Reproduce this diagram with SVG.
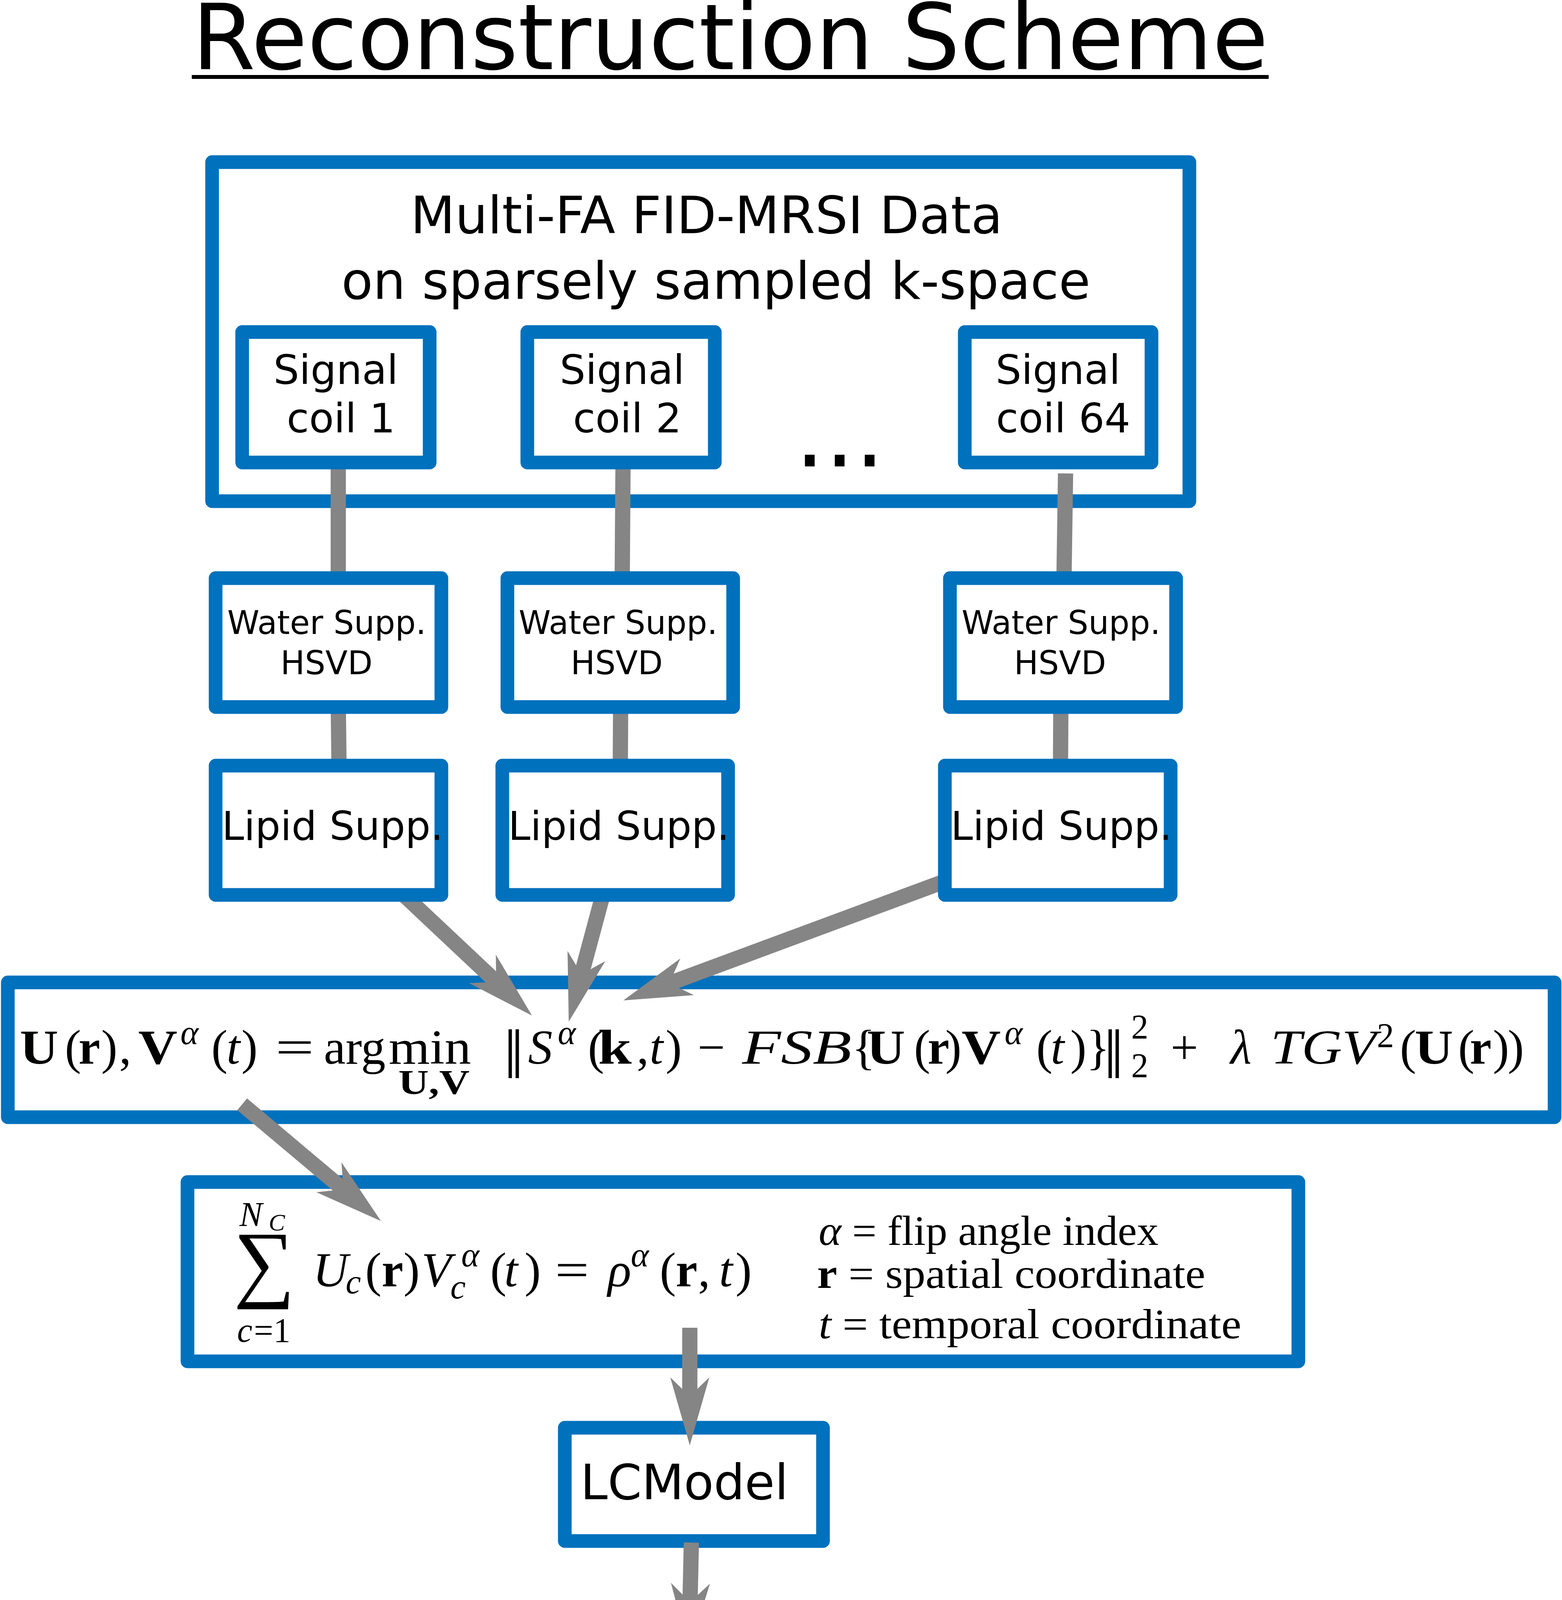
<svg xmlns="http://www.w3.org/2000/svg" width="3999" height="4574" viewBox="0 0 3999 4574">
<style>
.box{fill:#fff;stroke:#0071BC;stroke-width:35;stroke-linejoin:round}
.conn{fill:none;stroke:#858585;stroke-width:39}
.arr{marker-end:url(#ah)}
.sans{font-family:"DejaVu Sans","Liberation Sans",sans-serif;fill:#000}
.math{font-family:"Liberation Serif","Times New Roman",serif;fill:#000}
.it{font-style:italic}
.bf{font-weight:bold}
</style>
<defs>
<marker id="ah" markerUnits="userSpaceOnUse" viewBox="-40 -60 200 120" markerWidth="200" markerHeight="120" refX="0" refY="0" orient="auto" overflow="visible">
<path d="M144,0 L-30,-50 L0,-19 L-6,0 L0,19 L-30,50 Z" fill="#858585"/>
</marker>
</defs>
<rect width="3999" height="4574" fill="#fff"/>

<g id="title">
<text class="sans" x="492" y="177" font-size="233">Reconstruction Scheme</text>
<rect x="491" y="192" width="2757" height="10" fill="#000"/>
</g>

<g id="node-data">
<rect class="box" x="543" y="415" width="2502" height="868"/>
<text class="sans" x="1051" y="597" font-size="132">Multi-FA FID-MRSI Data</text>
<text class="sans" x="874" y="765" font-size="132">on sparsely sampled k-space</text>
<text class="sans" x="2035" y="1194" font-size="241">...</text>
</g>

<g id="node-formula">
<rect class="box" x="20" y="2515" width="3960" height="345"/>
<text class="math" font-size="125">
<tspan class="bf" x="51" y="2723" textLength="98" lengthAdjust="spacingAndGlyphs">U</tspan><tspan x="166" y="2723">(</tspan><tspan class="bf" x="201" y="2723">r</tspan><tspan x="259" y="2723">)</tspan><tspan x="305" y="2723">,</tspan><tspan class="bf" x="354" y="2723" textLength="100" lengthAdjust="spacingAndGlyphs">V</tspan><tspan class="it" x="462" y="2673" font-size="88">α</tspan><tspan x="541" y="2723">(</tspan><tspan class="it" x="580" y="2723">t</tspan><tspan x="618" y="2723">)</tspan><tspan x="705" y="2723" textLength="99" lengthAdjust="spacingAndGlyphs">=</tspan><tspan x="829" y="2723" textLength="158" lengthAdjust="spacingAndGlyphs">arg</tspan><tspan x="995" y="2723" textLength="211" lengthAdjust="spacingAndGlyphs">min</tspan><tspan class="bf" x="1020" y="2800" font-size="88" textLength="182" lengthAdjust="spacingAndGlyphs">U,V</tspan><tspan x="1290" y="2760" font-size="180">‖</tspan><tspan class="it" x="1352" y="2723">S</tspan><tspan class="it" x="1428" y="2673" font-size="88">α</tspan><tspan x="1505" y="2723">(</tspan><tspan class="bf" x="1531" y="2723" textLength="86" lengthAdjust="spacingAndGlyphs">k</tspan><tspan x="1630" y="2723">,</tspan><tspan class="it" x="1663" y="2723">t</tspan><tspan x="1704" y="2723">)</tspan><tspan x="1786" y="2723">−</tspan><tspan class="it" x="1900" y="2723" textLength="280" lengthAdjust="spacingAndGlyphs">FSB</tspan><tspan x="2181" y="2723">{</tspan><tspan class="bf" x="2219" y="2723" textLength="98" lengthAdjust="spacingAndGlyphs">U</tspan><tspan x="2340" y="2723">(</tspan><tspan class="bf" x="2375" y="2723">r</tspan><tspan x="2420" y="2723">)</tspan><tspan class="bf" x="2462" y="2723" textLength="100" lengthAdjust="spacingAndGlyphs">V</tspan><tspan class="it" x="2572" y="2673" font-size="88">α</tspan><tspan x="2653" y="2723">(</tspan><tspan class="it" x="2690" y="2723">t</tspan><tspan x="2740" y="2723">)</tspan><tspan x="2781" y="2723">}</tspan><tspan x="2826" y="2760" font-size="180">‖</tspan><tspan x="2896" y="2658" font-size="88">2</tspan><tspan x="2896" y="2757" font-size="88">2</tspan><tspan x="2997" y="2723">+</tspan><tspan class="it" x="3150" y="2723">λ</tspan><tspan class="it" x="3253" y="2723" textLength="270" lengthAdjust="spacingAndGlyphs">TGV</tspan><tspan x="3525" y="2680" font-size="88">2</tspan><tspan x="3584" y="2723">(</tspan><tspan class="bf" x="3622" y="2723" textLength="98" lengthAdjust="spacingAndGlyphs">U</tspan><tspan x="3733" y="2723">(</tspan><tspan class="bf" x="3763" y="2723">r</tspan><tspan x="3822" y="2723">)</tspan><tspan x="3860" y="2723">)</tspan>
</text>
</g>

<g id="node-sum">
<rect class="box" x="480" y="3026" width="2844" height="459"/>
<text class="math" font-size="125">
<tspan class="it" x="613" y="3138" font-size="88">N</tspan><tspan class="it" x="688" y="3150" font-size="62">C</tspan><tspan x="598" y="3305" font-size="220">∑</tspan><tspan class="it" x="607" y="3435" font-size="88">c</tspan><tspan x="650" y="3435" font-size="88">=1</tspan><tspan class="it" x="801" y="3293">U</tspan><tspan class="it" x="885" y="3311" font-size="88">c</tspan><tspan x="935" y="3293">(</tspan><tspan class="bf" x="977" y="3293">r</tspan><tspan x="1033" y="3293">)</tspan><tspan class="it" x="1079" y="3293">V</tspan><tspan class="it" x="1181" y="3242" font-size="88">α</tspan><tspan class="it" x="1153" y="3324" font-size="88">c</tspan><tspan x="1255" y="3293">(</tspan><tspan class="it" x="1291" y="3293">t</tspan><tspan x="1343" y="3293">)</tspan><tspan x="1421" y="3293" textLength="87" lengthAdjust="spacingAndGlyphs">=</tspan><tspan class="it" x="1556" y="3293">ρ</tspan><tspan class="it" x="1615" y="3242" font-size="88">α</tspan><tspan x="1689" y="3293">(</tspan><tspan class="bf" x="1730" y="3293">r</tspan><tspan x="1787" y="3293">,</tspan><tspan class="it" x="1841" y="3293">t</tspan><tspan x="1883" y="3293">)</tspan>
</text>
<text class="math" x="2096" y="3187" font-size="108" textLength="870" lengthAdjust="spacingAndGlyphs"><tspan class="it">α</tspan> = flip angle index</text>
<text class="math" x="2092" y="3297" font-size="108" textLength="994" lengthAdjust="spacingAndGlyphs"><tspan class="bf">r</tspan> = spatial coordinate</text>
<text class="math" x="2096" y="3426" font-size="108" textLength="1082" lengthAdjust="spacingAndGlyphs"><tspan class="it">t</tspan> = temporal coordinate</text>
</g>

<g id="node-lcmodel">
<rect class="box" x="1446" y="3655" width="661" height="290"/>
<text class="sans" x="1486" y="3838" font-size="125">LCModel</text>
</g>

<g id="node-maps">
<rect class="box" x="517" y="4205" width="2662" height="348"/>
<text class="sans" x="565" y="4433" font-size="133">Multi-FA Metabolite distribution maps</text>
</g>

<g id="connectors">
<path class="conn" d="M866,1190 L866,1480"/>
<path class="conn" d="M866,1800 L868,1970"/>
<path class="conn" d="M1595,1190 L1593,1480"/>
<path class="conn" d="M1589,1800 L1588,1970"/>
<path class="conn" d="M2728,1212 L2724,1480"/>
<path class="conn" d="M2716,1800 L2715,1970"/>
<path class="conn arr" d="M1018.6,2276.8 L1257,2501"/>
<path class="conn arr" d="M1551,2262.8 L1493.5,2476.5"/>
<path class="conn arr" d="M2450,2244.6 L1731,2511"/>
<path class="conn arr" d="M620,2827 L865,3033"/>
<path class="conn arr" d="M1766,3399 L1766,3556"/>
<path class="conn arr" d="M1770,3949 L1767,4083"/>
</g>

<g id="node-coil1">
<rect class="box" x="620" y="850" width="480" height="334"/>
<text class="sans" font-size="104"><tspan x="700" y="983">Signal</tspan><tspan x="734" y="1107">coil 1</tspan></text>
</g>
<g id="node-coil2">
<rect class="box" x="1350" y="850" width="480" height="334"/>
<text class="sans" font-size="104"><tspan x="1433" y="983">Signal</tspan><tspan x="1467" y="1107">coil 2</tspan></text>
</g>
<g id="node-coil64">
<rect class="box" x="2470" y="850" width="478" height="334"/>
<text class="sans" font-size="104"><tspan x="2549" y="983">Signal</tspan><tspan x="2550" y="1107">coil 64</tspan></text>
</g>

<g id="node-water1">
<rect class="box" x="552" y="1480" width="578" height="330"/>
<text class="sans" font-size="83"><tspan x="582" y="1623">Water Supp.</tspan><tspan x="718" y="1726">HSVD</tspan></text>
</g>
<g id="node-water2">
<rect class="box" x="1299" y="1480" width="578" height="330"/>
<text class="sans" font-size="83"><tspan x="1328" y="1623">Water Supp.</tspan><tspan x="1461" y="1726">HSVD</tspan></text>
</g>
<g id="node-water64">
<rect class="box" x="2432" y="1480" width="579" height="330"/>
<text class="sans" font-size="83"><tspan x="2462" y="1623">Water Supp.</tspan><tspan x="2596" y="1726">HSVD</tspan></text>
</g>

<g id="node-lipid1">
<rect class="box" x="552" y="1960" width="578" height="331"/>
<text class="sans" x="568" y="2150" font-size="102">Lipid Supp.</text>
</g>
<g id="node-lipid2">
<rect class="box" x="1286" y="1960" width="578" height="331"/>
<text class="sans" x="1301" y="2150" font-size="102">Lipid Supp.</text>
</g>
<g id="node-lipid64">
<rect class="box" x="2419" y="1960" width="578" height="331"/>
<text class="sans" x="2434" y="2150" font-size="102">Lipid Supp.</text>
</g>
</svg>
